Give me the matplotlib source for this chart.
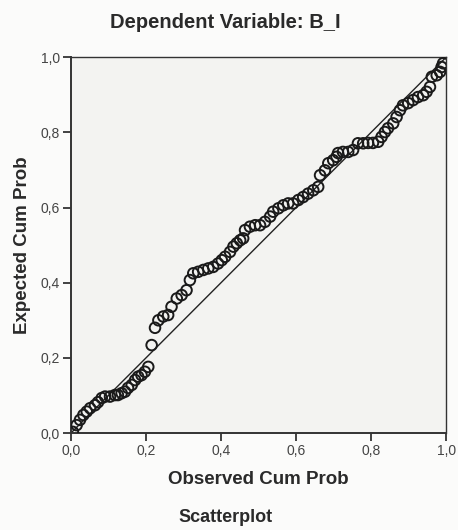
import matplotlib.pyplot as plt
from matplotlib.ticker import FuncFormatter

plt.rcParams['font.family'] = ['Liberation Sans', 'DejaVu Sans']

# observed vs expected cumulative probabilities
observed = [0.005, 0.015, 0.024, 0.033, 0.042, 0.051, 0.064, 0.072, 0.082, 0.091,
            0.104, 0.117, 0.125, 0.135, 0.144, 0.152, 0.162, 0.171, 0.179, 0.188,
            0.197, 0.206, 0.215, 0.224, 0.233, 0.246, 0.259, 0.268, 0.282, 0.295,
            0.308, 0.317, 0.326, 0.339, 0.353, 0.366, 0.379, 0.392, 0.402, 0.411,
            0.424, 0.433, 0.442, 0.451, 0.459, 0.464, 0.477, 0.491, 0.504, 0.517,
            0.531, 0.539, 0.553, 0.566, 0.579, 0.592, 0.606, 0.619, 0.632, 0.646,
            0.659, 0.664, 0.677, 0.686, 0.699, 0.708, 0.712, 0.725, 0.739, 0.752,
            0.765, 0.779, 0.792, 0.805, 0.819, 0.828, 0.837, 0.845, 0.859, 0.868,
            0.877, 0.885, 0.899, 0.912, 0.925, 0.939, 0.948, 0.957, 0.962, 0.975,
            0.984, 0.988, 0.992]
expected = [0.003, 0.021, 0.035, 0.048, 0.057, 0.066, 0.074, 0.082, 0.093, 0.097,
            0.097, 0.101, 0.101, 0.106, 0.110, 0.120, 0.128, 0.141, 0.150, 0.154,
            0.163, 0.176, 0.234, 0.280, 0.300, 0.310, 0.314, 0.336, 0.358, 0.367,
            0.380, 0.407, 0.425, 0.429, 0.434, 0.438, 0.442, 0.451, 0.460, 0.469,
            0.482, 0.496, 0.505, 0.513, 0.518, 0.540, 0.549, 0.553, 0.553, 0.562,
            0.576, 0.589, 0.598, 0.606, 0.611, 0.611, 0.620, 0.628, 0.637, 0.646,
            0.655, 0.686, 0.699, 0.718, 0.726, 0.735, 0.745, 0.748, 0.748, 0.753,
            0.771, 0.771, 0.772, 0.772, 0.775, 0.788, 0.801, 0.811, 0.824, 0.841,
            0.859, 0.872, 0.878, 0.886, 0.894, 0.899, 0.908, 0.921, 0.948, 0.952,
            0.961, 0.974, 0.984]
ticks = [0.0, 0.2, 0.4, 0.6, 0.8, 1.0]

fig = plt.figure(figsize=(4.58, 5.30), dpi=100, facecolor='#fbfbfa')
ax = fig.add_axes([0.155, 0.183, 0.819, 0.709])
ax.set_facecolor('#f3f3f1')

ax.plot([0, 1], [0, 1], color='#222222', linewidth=1.0)
ax.scatter(observed, expected, s=58, facecolors='none', edgecolors='#1a1a1a',
           linewidths=1.4, zorder=3)

ax.set_xlim(0, 1)
ax.set_ylim(0, 1)
ax.set_xticks(ticks)
ax.set_yticks(ticks)
comma = FuncFormatter(lambda v, p: f'{v:.1f}'.replace('.', ','))
ax.xaxis.set_major_formatter(comma)
ax.yaxis.set_major_formatter(comma)
ax.tick_params(direction='out', length=6, width=1.2, color='#222222',
               labelsize=10, labelcolor='#444444', pad=2)
for s in ax.spines.values():
    s.set_color('#333333')
    s.set_linewidth(1.0)
ax.spines['left'].set_linewidth(1.4)
ax.spines['bottom'].set_linewidth(1.4)

ax.set_xlabel('Observed Cum Prob', fontsize=13.5, fontweight='bold', color='#2a2a2a', labelpad=9)
ax.set_ylabel('Expected Cum Prob', fontsize=13.5, fontweight='bold', color='#2a2a2a', labelpad=7)
fig.text(0.493, 0.958, 'Dependent Variable: B_I', ha='center', va='center',
         fontsize=14.5, fontweight='bold', color='#2a2a2a')
fig.text(0.493, 0.023, 'Scatterplot', ha='center', va='center',
         fontsize=13, fontweight='bold', color='#2a2a2a')

fig.savefig('out.png', dpi=100, facecolor=fig.get_facecolor())
